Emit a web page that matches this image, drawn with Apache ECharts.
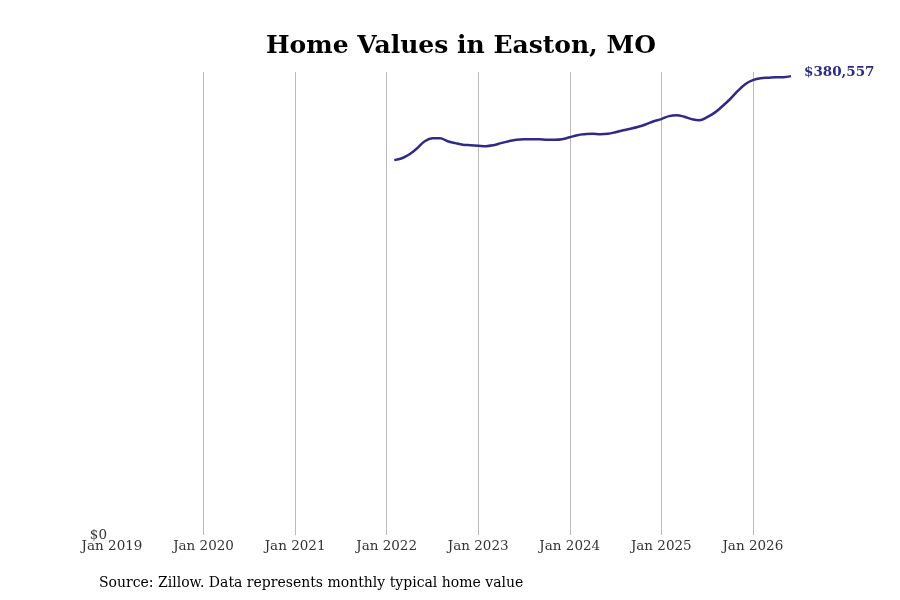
<!DOCTYPE html>
<html>
<head>
<meta charset="utf-8">
<script src="https://cdn.jsdelivr.net/npm/echarts@6/dist/echarts.min.js"></script>
<style>html,body{margin:0;padding:0;background:#fff}#c{width:900px;height:600px}</style>
</head>
<body>
<div id="c"></div>
<script>
const startYear = 2019;
const monthCount = 90; // Jan 2019 .. Jun 2026
const dataStartIndex = 37; // Feb 2022
const homeValues = [
  310900, 312500, 315800, 320800, 326600, 329100, 329100, 326600, 325000, 323700, 323300,
  322900, 322500, 323300, 325000, 326600, 327900, 328300, 328300, 328300, 327900, 327900, 328300,
  329900, 331600, 332400, 332800, 332400, 332800, 334100, 335700, 337000, 338600, 340700, 343200,
  344900, 347400, 348200, 346900, 344900, 344000, 346500, 350300, 355600, 361400, 368100, 373900,
  377200, 378900, 379300, 379700, 379700, 380557
];
const monthNames = ['Jan','Feb','Mar','Apr','May','Jun','Jul','Aug','Sep','Oct','Nov','Dec'];
const categories = [];
for (let i = 0; i < monthCount; i++) {
  categories.push(monthNames[i % 12] + ' ' + (startYear + Math.floor(i / 12)));
}
const seriesData = categories.map((c, i) => {
  const j = i - dataStartIndex;
  return (j >= 0 && j < homeValues.length) ? homeValues[j] : null;
});
const font = 'DejaVu Serif';
const chart = echarts.init(document.getElementById('c'));
chart.setOption({
  animation: false,
  backgroundColor: '#fff',
  title: {
    text: 'Home Values in Easton, MO',
    left: 261, top: 29,
    textStyle: { fontFamily: font, fontWeight: 'bold', fontSize: 25, color: '#000' }
  },
  graphic: [{
    type: 'text', left: 99, top: 576,
    style: { text: 'Source: Zillow. Data represents monthly typical home value', fontFamily: font, fontSize: 14, fill: '#000' }
  }],
  grid: { left: 112, right: 109, top: 72, bottom: 65, containLabel: false },
  xAxis: {
    type: 'category', data: categories, boundaryGap: false,
    axisLine: { show: false }, axisTick: { show: false },
    axisLabel: {
      interval: (i) => i % 12 === 0,
      formatter: (v) => v,
      fontFamily: font, fontSize: 13.5, color: '#333', margin: 4
    },
    splitLine: { show: true, interval: (i) => i % 12 === 0 && i > 0, lineStyle: { color: '#bbb', width: 1 } }
  },
  yAxis: {
    type: 'value', min: 0, max: 384000, interval: 384000,
    axisLine: { show: false }, axisTick: { show: false }, splitLine: { show: false },
    axisLabel: {
      formatter: (v) => v === 0 ? '$0' : '',
      fontFamily: font, fontSize: 13.5, color: '#333', margin: 5,
      verticalAlign: 'middle'
    }
  },
  series: [{
    type: 'line', data: seriesData, smooth: 0.4, showSymbol: false, connectNulls: false,
    lineStyle: { color: '#2e2b87', width: 2.5 },
    itemStyle: { color: '#2e2b87' },
    endLabel: {
      show: true, formatter: '$380,557', distance: 13, offset: [0, -4],
      fontFamily: font, fontWeight: 'bold', fontSize: 13.5, color: '#2e2b87'
    }
  }]
});
</script>
</body>
</html>
